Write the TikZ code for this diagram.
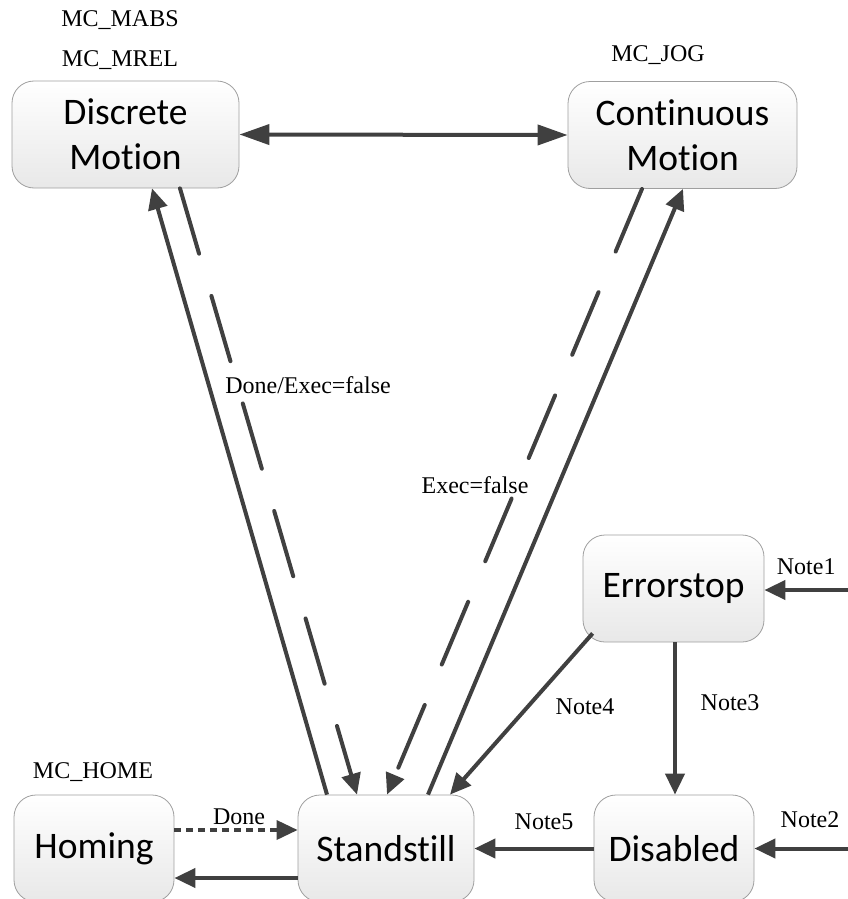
\documentclass[tikz,border=0pt]{standalone}
\usepackage{fontspec}
\setmainfont{Liberation Serif}
\newfontfamily\statefont{Carlito}[Ligatures=NoCommon]
\usepackage{tikz}
\usetikzlibrary{arrows.meta}
\definecolor{linegray}{HTML}{404040}

\begin{document}
\begin{tikzpicture}[x=1pt, y=-1pt,
    state/.style={draw=gray!75, line width=0.8pt, rounded corners=22pt, top color=white, bottom color=gray!18,
                  minimum height=107pt, align=center, font=\statefont\fontsize{37.5}{45}\selectfont, inner sep=0pt},
    lbl/.style={font=\fontsize{24}{28}\selectfont, inner sep=0pt},
    conn/.style={draw=linegray, line width=4pt, -{Triangle[length=21pt, width=19pt]}},
    longdash/.style={line cap=round, dash pattern=on 68pt off 44pt},
    shortdash/.style={line width=3.5pt, dash pattern=on 7pt off 5pt}]
        \useasboundingbox (0,0) rectangle (848,899);

        \node[state, minimum width=227pt] at (125.5,134.5) (disc) {Discrete\\Motion};
        \node[state, minimum width=229pt] at (682.5,135)   (cont) {Continuous\\Motion};
        \node[state, minimum width=181pt] at (673.5,588.5) (err)  {Errorstop};
        \node[state, minimum width=160pt] at (94,848.5)    (home) {Homing};
        \node[state, minimum width=176pt] at (386,848.5)   (stand) {Standstill};
        \node[state, minimum width=160pt] at (674,848.5)   (dis)  {Disabled};

        \node[lbl] at (120,20)  (mabs) {MC\_MABS};
        \node[lbl] at (120,60)  (mrel) {MC\_MREL};
        \node[lbl] at (658,55)  (jog)  {MC\_JOG};
        \node[lbl] at (93,772)  (mhome) {MC\_HOME};

        \coordinate (n1) at (848,590);
        \coordinate (n2) at (848,848.5);

        % top row
        \draw [conn, {Triangle[length=30pt, width=20pt]}-{Triangle[length=30pt, width=20pt]}] (disc.east) -- (cont.west);

        % standstill <-> motion states
        \draw [conn] ([xshift=-59pt]stand.north) -- ([xshift=26.5pt]disc.south);
        \draw [conn, longdash] ([xshift=54.5pt]disc.south) -- ([xshift=-29pt]stand.north);
        \draw [conn, longdash] ([xshift=-40.5pt]cont.south) -- ([xshift=1pt]stand.north);
        \draw [conn] ([xshift=42pt]stand.north) -- ([xshift=0.5pt]cont.south);
        \node[lbl] at (308,385) (l1) {Done/Exec=false};
        \node[lbl] at (475,485) (l2) {Exec=false};

        % error handling
        \draw [conn] (n1) -- (err.east |- n1) node[lbl, pos=0.5, above=13pt] {Note1};
        \draw [conn] ([xshift=10pt, yshift=9pt]err.south west) -- ([xshift=64pt]stand.north);
        \node[lbl] at (585,707) (l4) {Note4};
        \draw [conn] ([xshift=1.5pt]err.south) -- ([xshift=1pt]dis.north);
        \node[lbl] at (730,703) (l3) {Note3};
        \draw [conn] (n2) -- (dis.east);
        \node[lbl] at (810,820) (l6) {Note2};
        \draw [conn] (dis.west) -- (stand.east);
        \node[lbl] at (544,822) (l5) {Note5};

        % homing
        \draw [conn, shortdash] ([yshift=18.5pt]home.east) -- ([yshift=18.5pt]stand.west);
        \node[lbl] at (239,817) (l7) {Done};
        \draw [conn] ([yshift=-29.5pt]stand.west) -- ([yshift=-29.5pt]home.east);
\end{tikzpicture}
\end{document}
